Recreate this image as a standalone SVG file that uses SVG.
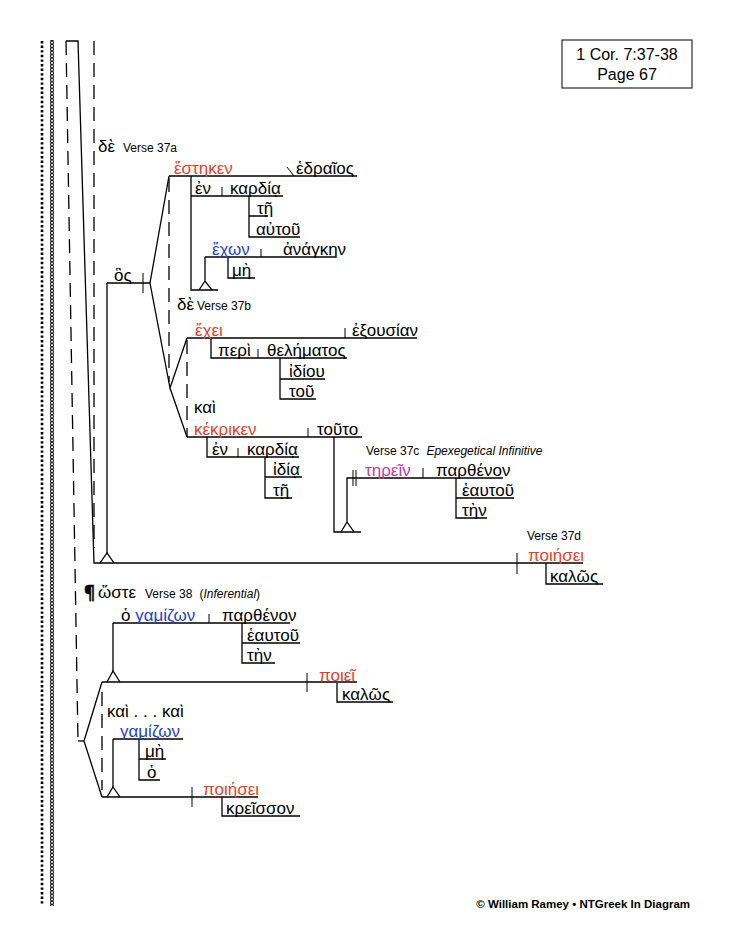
<svg xmlns="http://www.w3.org/2000/svg" width="732" height="944" viewBox="0 0 732 944">
<defs>
<style>
.l{stroke:#000;stroke-width:1.3;fill:none}
.t{stroke:#000;stroke-width:1;fill:none}
.d{stroke:#000;stroke-width:1.3;fill:none;stroke-dasharray:14 8}
.g{font-family:"Liberation Sans","DejaVu Sans",sans-serif;font-size:17px;fill:#000}
.r{fill:#e8402a}
.b{fill:#1f3fd1}
.m{fill:#c23aa0}
.v{font-family:"Liberation Sans",Arial,sans-serif;font-size:12px;fill:#000}
.i{font-style:italic}
.p{font-family:"Noto Sans","DejaVu Sans",sans-serif;font-weight:bold;font-size:17px;fill:#000;stroke:#000;stroke-width:0.4}
</style>
<pattern id="rings" x="0" y="0" width="8" height="3.4" patternUnits="userSpaceOnUse">
<circle cx="4" cy="1.7" r="1.5" fill="none" stroke="#000" stroke-width="0.9"/>
</pattern>
</defs>
<rect width="732" height="944" fill="#fff"/>
<g id="border">
<line x1="42" y1="41" x2="42" y2="905" stroke="#000" stroke-width="2.6" stroke-dasharray="2.4 2.2"/>
<rect x="46" y="40" width="8" height="866" fill="url(#rings)"/>
</g>
<g id="title">
<rect x="562" y="40" width="130" height="48" fill="none" stroke="#000" stroke-width="1"/>
<text x="627" y="60" text-anchor="middle" font-family="Liberation Sans,Arial,sans-serif" font-size="16">1 Cor. 7:37-38</text>
<text x="627" y="80" text-anchor="middle" font-family="Liberation Sans,Arial,sans-serif" font-size="16">Page 67</text>
</g>
<g id="connectors">
<path class="l" d="M66,41 H78 L94,563 H583"/>
<path class="d" d="M66,41 L78,741" stroke="#555"/>
<path class="l" d="M78,741 H84"/>
<path class="d" d="M94,41 V548"/>
<path class="t" d="M517,553 V574"/>
<path class="l" d="M546,563 V584 H603"/>
<path class="l" d="M107,283 V553"/>
<path class="l" d="M100,563 L107,553 L114,563"/>
<path class="l" d="M107,283 H150"/>
<path class="t" d="M143,273 V293"/>
<path class="l" d="M169,176 L150,283 L170,388 L187,338 M170,388 L187,437"/>
<path class="d" d="M169,178 V382"/>
<path class="d" d="M187,340 V437"/>
<path class="l" d="M169,176 H357"/>
<path class="t" d="M287,167 L294,176"/>
<path class="l" d="M191,176 V290 H218"/>
<path class="l" d="M199,290 L205,281 L212,290 M205,257 V281"/>
<path class="l" d="M191,196 H283"/>
<path class="t" d="M222,187 V196"/>
<path class="l" d="M249,196 V237 H300 M249,216 H268"/>
<path class="l" d="M205,257 H335"/>
<path class="t" d="M261,249 V257"/>
<path class="l" d="M228,257 V278 H255"/>
<path class="l" d="M187,338 H417"/>
<path class="t" d="M345,328 V338"/>
<path class="l" d="M211,338 V358 H347"/>
<path class="t" d="M258,349 V358"/>
<path class="l" d="M280,358 V399 H316 M280,379 H325"/>
<path class="l" d="M187,437 H362"/>
<path class="t" d="M308,428 V437"/>
<path class="l" d="M207,437 V457 H299"/>
<path class="t" d="M238,448 V457"/>
<path class="l" d="M265,457 V498 H292 M265,477 H302"/>
<path class="l" d="M334,437 V532 H361"/>
<path class="l" d="M341,532 L347,522 L354,532 M347,522 V478 H503"/>
<path class="t" d="M353,470 V486 M356,470 V486 M423,468 V478"/>
<path class="l" d="M456,478 V518 H487 M456,498 H514"/>
<path class="l" d="M113,623 H290 M113,623 V671"/>
<path class="t" d="M209,614 V623"/>
<path class="l" d="M107,682 L113,671 L120,682"/>
<path class="l" d="M242,623 V663 H275 M242,643 H300"/>
<path class="l" d="M102,682 H357"/>
<path class="t" d="M307,673 V692"/>
<path class="l" d="M337,683 V702 H393"/>
<path class="l" d="M102,682 L84,741 L102,797"/>
<path class="d" d="M102,692 V790"/>
<path class="l" d="M113,739 H183 M113,739 V787"/>
<path class="l" d="M107,797 L113,787 L120,797"/>
<path class="l" d="M139,739 V780 H160 M139,759 H166"/>
<path class="l" d="M102,797 H258"/>
<path class="t" d="M192,787 V807"/>
<path class="l" d="M222,797 V816 H300"/>
</g>
<g id="labels">
<text class="g" x="98" y="152">δὲ</text>
<text class="v" x="123" y="152">Verse 37a</text>
<text class="g" x="177" y="310">δὲ</text>
<text class="v" x="197" y="310">Verse 37b</text>
<text class="v" x="366" y="455">Verse 37c<tspan class="i" dx="7">Epexegetical Infinitive</tspan></text>
<text class="v" x="527" y="540">Verse 37d</text>
<text class="p" x="84" y="599">¶</text>
<text class="g" x="98" y="598">ὥστε</text>
<text class="v" x="145" y="598">Verse 38<tspan dx="7">(</tspan><tspan class="i">Inferential</tspan>)</text>
<text class="g" x="194" y="413">καὶ</text>
<text class="g" x="107" y="717">καὶ . . . καὶ</text>
</g>
<g id="n-os"><text class="g" x="114" y="281">ὃς</text></g>
<g id="n-hestheken"><text class="g r" x="174" y="174">ἕστηκεν</text></g>
<g id="n-hedraios"><text class="g" x="296" y="174">ἑδραῖος</text></g>
<g id="n-en1"><text class="g" x="195" y="194">ἐν</text></g>
<g id="n-kardia1"><text class="g" x="230" y="194">καρδίᾳ</text></g>
<g id="n-te1"><text class="g" x="257" y="214">τῇ</text></g>
<g id="n-autou"><text class="g" x="256" y="235">αὐτοῦ</text></g>
<g id="n-echon"><text class="g b" x="212" y="255">ἔχων</text></g>
<g id="n-anagken"><text class="g" x="283" y="255">ἀνάγκην</text></g>
<g id="n-me1"><text class="g" x="232" y="276">μὴ</text></g>
<g id="n-echei"><text class="g r" x="195" y="336">ἔχει</text></g>
<g id="n-exousian"><text class="g" x="352" y="336">ἐξουσίαν</text></g>
<g id="n-peri"><text class="g" x="218" y="356">περὶ</text></g>
<g id="n-thelematos"><text class="g" x="267" y="356">θελήματος</text></g>
<g id="n-idiou"><text class="g" x="289" y="377">ἰδίου</text></g>
<g id="n-tou"><text class="g" x="289" y="397">τοῦ</text></g>
<g id="n-kekriken"><text class="g r" x="194" y="435">κέκρικεν</text></g>
<g id="n-touto"><text class="g" x="317" y="435">τοῦτο</text></g>
<g id="n-en2"><text class="g" x="212" y="455">ἐν</text></g>
<g id="n-kardia2"><text class="g" x="247" y="455">καρδίᾳ</text></g>
<g id="n-idia"><text class="g" x="273" y="475">ἰδίᾳ</text></g>
<g id="n-te2"><text class="g" x="273" y="496">τῇ</text></g>
<g id="n-terein"><text class="g m" x="365" y="476">τηρεῖν</text></g>
<g id="n-parthenon1"><text class="g" x="436" y="476">παρθένον</text></g>
<g id="n-heautou1"><text class="g" x="462" y="496">ἑαυτοῦ</text></g>
<g id="n-ten1"><text class="g" x="462" y="516">τὴν</text></g>
<g id="n-poiesei1"><text class="g r" x="528" y="561">ποιήσει</text></g>
<g id="n-kalos1"><text class="g" x="550" y="582">καλῶς</text></g>
<g id="n-gamizon1"><text class="g" x="121" y="621">ὁ <tspan class="b">γαμίζων</tspan></text></g>
<g id="n-parthenon2"><text class="g" x="222" y="621">παρθένον</text></g>
<g id="n-heautou2"><text class="g" x="247" y="641">ἑαυτοῦ</text></g>
<g id="n-ten2"><text class="g" x="247" y="661">τὴν</text></g>
<g id="n-poiei"><text class="g r" x="319" y="681">ποιεῖ</text></g>
<g id="n-kalos2"><text class="g" x="342" y="700">καλῶς</text></g>
<g id="n-gamizon2"><text class="g b" x="120" y="737">γαμίζων</text></g>
<g id="n-me2"><text class="g" x="145" y="757">μὴ</text></g>
<g id="n-ho"><text class="g" x="147" y="778">ὁ</text></g>
<g id="n-poiesei2"><text class="g r" x="203" y="795">ποιήσει</text></g>
<g id="n-kreisson"><text class="g" x="226" y="814">κρεῖσσον</text></g>
<g id="footer"><text x="690" y="908" text-anchor="end" font-family="Liberation Sans,Arial,sans-serif" font-size="11.5" font-weight="bold">© William Ramey • NTGreek In Diagram</text></g>
</svg>
